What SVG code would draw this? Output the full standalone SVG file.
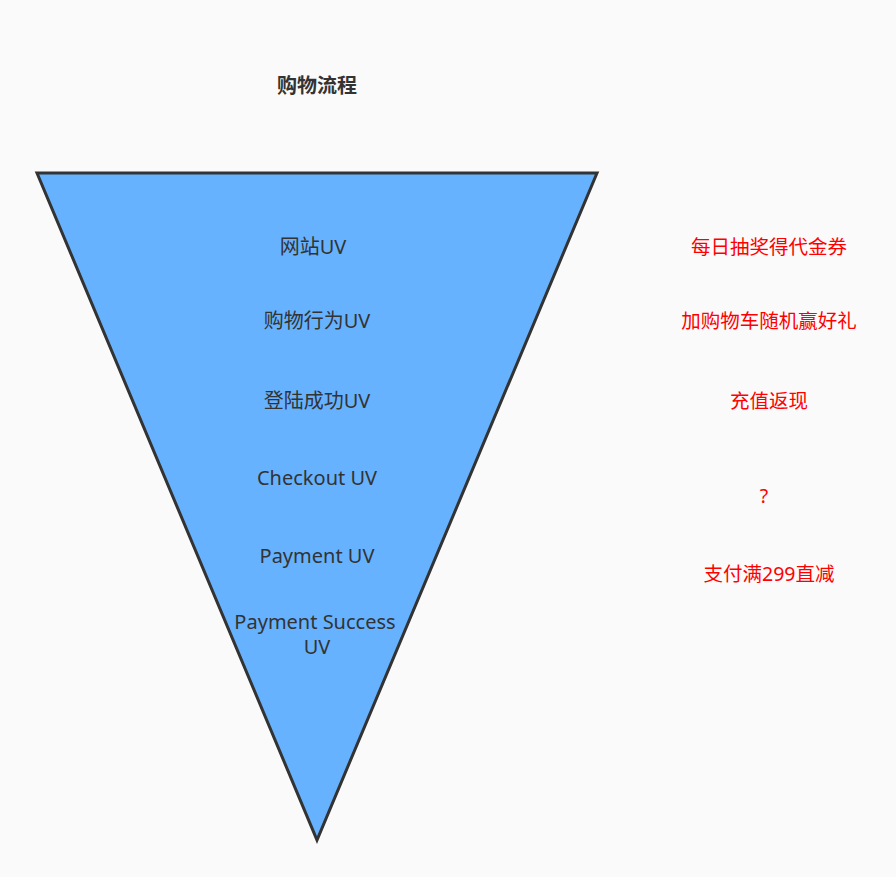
<svg xmlns="http://www.w3.org/2000/svg" width="896" height="877" viewBox="0 0 896 877">
<style>
text{font-family:"Noto Sans","Noto Sans CJK SC",sans-serif;font-size:20px;text-anchor:middle;dominant-baseline:central}
.t{fill:#333}
.r{fill:#ff0000;font-size:19.5px}
.h{font-weight:bold;fill:#333}
</style>
<rect width="896" height="877" fill="#fafafa"/>
<g id="title"><text class="h" x="317" y="85">购物流程</text></g>
<g id="funnel">
<polygon points="37,173 597,173 317,840" fill="#66b2ff" stroke="#333" stroke-width="3" stroke-linejoin="miter"/>
<text class="t" x="313" y="246">网站UV</text>
<text class="t" x="317" y="320">购物行为UV</text>
<text class="t" x="317" y="400">登陆成功UV</text>
<text class="t" x="317" y="477">Checkout UV</text>
<text class="t" x="317" y="555">Payment UV</text>
<text class="t" x="315" y="621">Payment Success</text>
<text class="t" x="317" y="646">UV</text>
</g>
<g id="notes">
<text class="r" x="769" y="246">每日抽奖得代金券</text>
<text class="r" x="769" y="320">加购物车随机赢好礼</text>
<text class="r" x="769" y="400">充值返现</text>
<text class="r" x="764" y="495">?</text>
<text class="r" x="769" y="573">支付满299直减</text>
</g>
<g id="connectors"/>
</svg>
